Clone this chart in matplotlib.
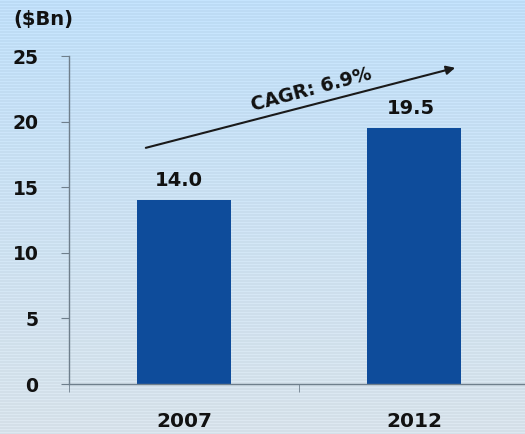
import numpy as np
import matplotlib
matplotlib.use("Agg")
import matplotlib.pyplot as plt

years = ["2007", "2012"]
values = [14.0, 19.5]
value_labels = ["14.0", "19.5"]
unit_label = "($Bn)"
cagr_label = "CAGR: 6.9%"
yticks = [0, 5, 10, 15, 20, 25]

W, H = 525, 434
plt.rcParams['font.family'] = ['DejaVu Sans']
fig = plt.figure(figsize=(W / 100, H / 100), dpi=100)

# background gradient with faint horizontal stripes
bg = fig.add_axes([0, 0, 1, 1], zorder=-10)
t = np.linspace(0, 1, H)[:, None]
top = np.array([0.740, 0.862, 0.962])
bot = np.array([0.835, 0.878, 0.910])
img = top[None, :] * (1 - t) + bot[None, :] * t
stripe = (np.arange(H) % 3 == 0)[:, None] * 0.035
img = np.clip(img + stripe, 0, 1)
img = np.repeat(img[:, None, :], 4, axis=1)
bg.imshow(img, aspect='auto', extent=[0, 1, 0, 1])
bg.axis('off')

ax = fig.add_axes([69 / W, (H - 384) / H, (529 - 69) / W, (384 - 56) / H])
ax.patch.set_alpha(0)
x = np.arange(len(years))
bar_color = "#0e4c9b"
ax.bar(x, values, width=0.41, color=bar_color, zorder=2)

txtcol = '#111111'
ax.set_xlim(-0.5, 1.5)
ax.set_ylim(0, 25)
ax.set_yticks(yticks)
ax.set_yticklabels([str(v) for v in yticks], fontsize=13.5, fontweight='bold', color=txtcol)
ax.set_xticks(x)
ax.set_xticklabels(years, fontsize=14.5, fontweight='bold', color=txtcol)
ax.set_xticks([-0.5, 0.5, 1.5], minor=True)
axcol = "#6f7f8c"
ax.tick_params(axis='x', which='major', length=0, pad=20)
ax.tick_params(axis='x', which='minor', length=6, color=axcol, direction='out')
ax.tick_params(axis='y', length=6, color=axcol, direction='out', pad=16)
for s in ['top', 'right']:
    ax.spines[s].set_visible(False)
for s in ['left', 'bottom']:
    ax.spines[s].set_color(axcol)
    ax.spines[s].set_linewidth(1.0)

for xi, v, lab, dx in zip(x, values, value_labels, [-0.024, -0.015]):
    ax.text(xi + dx, v + 0.8, lab, ha='center', va='bottom', fontsize=14,
            fontweight='bold', color=txtcol)

# CAGR arrow
ax.annotate("", xy=(1.179, 24.1), xytext=(-0.166, 18.0),
            arrowprops=dict(arrowstyle='-|>', color='#1a1a1a', lw=1.5,
                            mutation_scale=13, shrinkA=0, shrinkB=0),
            annotation_clip=False)
ax.text(0.555, 22.45, cagr_label, rotation=15, ha='center', va='center',
        fontsize=13.5, fontweight='bold', color=txtcol, rotation_mode='anchor',
        clip_on=False)

fig.text(13 / W, 1 - 19 / H, unit_label, ha='left', va='center', fontsize=14,
         fontweight='bold', color=txtcol)

fig.savefig("out.png", dpi=100)
